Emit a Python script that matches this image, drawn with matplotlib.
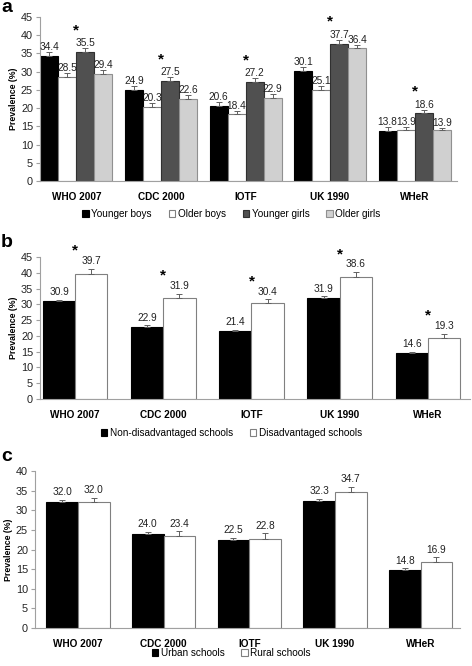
import matplotlib.pyplot as plt
import numpy as np

plt.rcParams['font.family'] = ['Liberation Sans', 'DejaVu Sans']

categories = ["WHO 2007", "CDC 2000", "IOTF", "UK 1990", "WHeR"]

# panel a: age x sex
a_labels = ["Younger boys", "Older boys", "Younger girls", "Older girls"]
a_values = [
    [34.4, 24.9, 20.6, 30.1, 13.8],
    [28.5, 20.3, 18.4, 25.1, 13.9],
    [35.5, 27.5, 27.2, 37.7, 18.6],
    [29.4, 22.6, 22.9, 36.4, 13.9],
]
a_errors = [
    [1.0, 1.1, 1.0, 1.2, 1.0],
    [1.0, 1.1, 0.8, 0.9, 0.9],
    [0.9, 1.0, 1.0, 1.0, 0.9],
    [1.0, 1.0, 0.9, 1.0, 0.6],
]
a_signif = [True, True, True, True, True]

# panel b: school disadvantage
b_labels = ["Non-disadvantaged schools", "Disadvantaged schools"]
b_values = [
    [30.9, 22.9, 21.4, 31.9, 14.6],
    [39.7, 31.9, 30.4, 38.6, 19.3],
]
b_errors = [
    [0.5, 0.4, 0.6, 0.6, 0.3],
    [1.5, 1.5, 1.2, 1.6, 1.3],
]
b_signif = [True, True, True, True, True]

# panel c: urban / rural
c_labels = ["Urban schools", "Rural schools"]
c_values = [
    [32.0, 24.0, 22.5, 32.3, 14.8],
    [32.0, 23.4, 22.8, 34.7, 16.9],
]
c_errors = [
    [0.6, 0.5, 0.5, 0.5, 0.4],
    [1.2, 1.2, 1.3, 1.2, 1.1],
]
c_signif = [False, False, False, False, False]

styles4 = [("#000000", "#000000"), ("#ffffff", "#808080"),
           ("#505050", "#303030"), ("#d0d0d0", "#909090")]
styles2 = [("#000000", "#000000"), ("#ffffff", "#808080")]

fig = plt.figure(figsize=(4.72, 6.66), dpi=100)
H = 666.0
W = 472.0


def panel(rect, values, errors, signif, labels, styles, width, xlim,
          ylim, yticks, letter, letter_y, legend_y, label_above):
    ax = fig.add_axes(rect)
    x = np.arange(len(categories))
    n = len(values)
    tops = np.zeros(len(categories))
    for k in range(n):
        pos = x + (k - (n - 1) / 2) * width
        fc, ec = styles[k]
        ax.bar(pos, values[k], width, color=fc, edgecolor=ec, linewidth=0.8,
               label=labels[k], zorder=2)
        ax.errorbar(pos, values[k], yerr=[np.zeros(len(pos)), errors[k]],
                    fmt="none", ecolor="#606060", elinewidth=0.7,
                    capsize=2, capthick=0.7, zorder=3)
        for xi, v, e in zip(pos, values[k], errors[k]):
            off = 2 if label_above else 0.0
            ax.annotate("%.1f" % v, (xi, v + e), xytext=(0, off),
                        textcoords="offset points", ha="center",
                        va="bottom", fontsize=7.3, color="#222222")
        tops = np.maximum(tops, np.array(values[k]) + np.array(errors[k]))
    for xi, t, s in zip(x, tops, signif):
        if s:
            ax.annotate("*", (xi, t), xytext=(0, 8),
                        textcoords="offset points", ha="center",
                        va="bottom", fontsize=11, fontweight="bold",
                        annotation_clip=False, clip_on=False)
    ax.set_xlim(*xlim)
    ax.set_ylim(*ylim)
    ax.set_yticks(yticks)
    ax.set_xticks(x)
    ax.set_xticklabels(categories, fontweight="bold", fontsize=7.2)
    ax.tick_params(axis="x", length=0, pad=8)
    ax.tick_params(axis="y", length=3, color="#a0a0a0", labelsize=7.8,
                   pad=2, labelcolor="#222222")
    for side in ["top", "right"]:
        ax.spines[side].set_visible(False)
    for side in ["left", "bottom"]:
        ax.spines[side].set_color("#a0a0a0")
        ax.spines[side].set_linewidth(0.8)
    ax.set_ylabel("Prevalence (%)", fontweight="bold", fontsize=6.3,
                  labelpad=2)
    fig.text(0.002, letter_y, letter, fontsize=14, fontweight="bold",
             va="baseline", ha="left")
    fig.legend(*ax.get_legend_handles_labels(), loc="center",
               bbox_to_anchor=(0.49, legend_y), ncol=n, frameon=False,
               fontsize=7.2, handlelength=0.65, handleheight=0.65,
               handletextpad=0.25, columnspacing=1.7)
    return ax


# panel a: x from 40 to 457, y45 at 17, y0 at 181
panel([40 / W, 1 - 181 / H, 417 / W, 164 / H], a_values, a_errors, a_signif,
      a_labels, styles4, 0.213, (-0.43, 4.5), (0, 45), range(0, 46, 5),
      "a", 1 - 12 / H, 1 - 214 / H, False)

# panel b: x from 40 to 470, y45 at 257, y0 at 399
panel([40 / W, 1 - 399 / H, 430 / W, 142 / H], b_values, b_errors, b_signif,
      b_labels, styles2, 0.365, (-0.40, 4.48), (0, 45), range(0, 46, 5),
      "b", 1 - 247 / H, 1 - 433 / H, True)

# panel c: x from 35 to 460, y40 at 471, y0 at 628
panel([35 / W, 1 - 628 / H, 425 / W, 157 / H], c_values, c_errors, c_signif,
      c_labels, styles2, 0.37, (-0.50, 4.46), (0, 40), range(0, 41, 5),
      "c", 1 - 461 / H, 1 - 653 / H, True)

fig.savefig("out.png", dpi=100)
